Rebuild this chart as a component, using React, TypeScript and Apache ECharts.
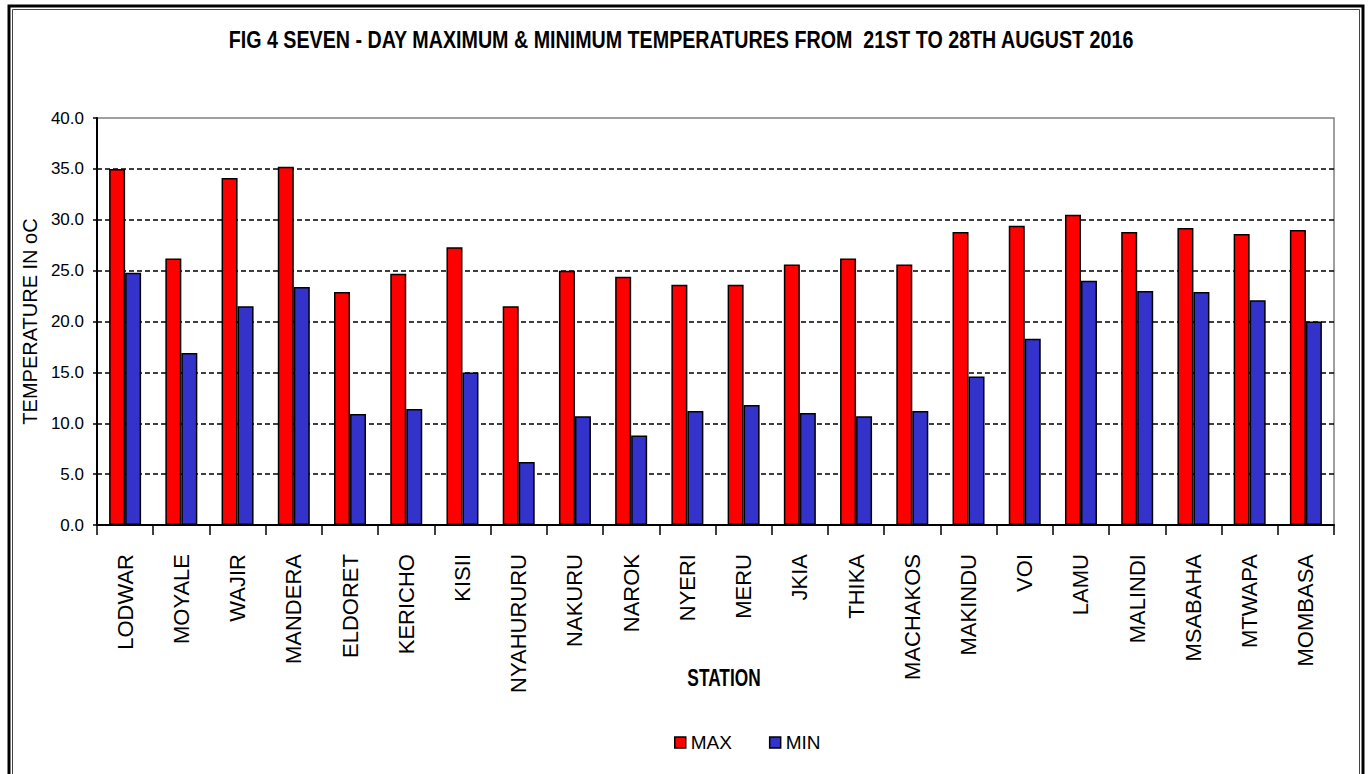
import React, { useEffect, useRef } from "react";
import * as echarts from "echarts";

const stations = ["LODWAR", "MOYALE", "WAJIR", "MANDERA", "ELDORET", "KERICHO", "KISII", "NYAHURURU", "NAKURU", "NAROK", "NYERI", "MERU", "JKIA", "THIKA", "MACHAKOS", "MAKINDU", "VOI", "LAMU", "MALINDI", "MSABAHA", "MTWAPA", "MOMBASA"];
const maxTemps = [35.0, 26.2, 34.1, 35.2, 22.9, 24.7, 27.3, 21.5, 25.0, 24.4, 23.6, 23.6, 25.6, 26.2, 25.6, 28.8, 29.4, 30.5, 28.8, 29.2, 28.6, 29.0];
const minTemps = [24.8, 16.9, 21.5, 23.4, 10.9, 11.4, 15.0, 6.2, 10.7, 8.8, 11.2, 11.8, 11.0, 10.7, 11.2, 14.6, 18.3, 24.0, 23.0, 22.9, 22.1, 20.0];
const seriesNames = ["MAX", "MIN"];
const titleText = "FIG 4 SEVEN - DAY MAXIMUM & MINIMUM TEMPERATURES FROM  21ST TO 28TH AUGUST 2016";
const xAxisTitle = "STATION";
const yAxisTitle = "TEMPERATURE IN oC";

const FONT = "'Liberation Sans', Arial, sans-serif";

export default function App() {
  const ref = useRef<HTMLDivElement>(null);
  useEffect(() => {
    const chart = echarts.init(ref.current!, undefined, { renderer: "svg" });
    chart.setOption({
      animation: false,
      backgroundColor: "#fff",
      legend: {
        data: seriesNames,
        left: 674,
        top: 733,
        padding: 0,
        icon: "rect",
        itemWidth: 11,
        itemHeight: 11,
        itemGap: 37,
        itemStyle: { borderColor: "#000", borderWidth: 1.5 },
        textStyle: { fontFamily: FONT, fontSize: 19, color: "#000" },
      },
      grid: { left: 97, top: 118, width: 1237, height: 407, show: true, borderColor: "#808080", borderWidth: 1.5 },
      xAxis: {
        type: "category",
        data: stations,
        axisLine: { lineStyle: { color: "#000", width: 2 } },
        axisTick: { show: true, length: 10, lineStyle: { color: "#000", width: 1.5 } },
        axisLabel: { rotate: 90, margin: 29, interval: 0, fontFamily: FONT, fontSize: 22, color: "#000" },
      },
      yAxis: {
        type: "value",
        min: 0,
        max: 40,
        interval: 5,
        name: yAxisTitle,
        nameLocation: "middle",
        nameRotate: 90,
        nameGap: 54,
        nameTextStyle: { fontFamily: FONT, fontSize: 20, color: "#000" },
        axisLine: { show: true, lineStyle: { color: "#000", width: 2 } },
        axisTick: { show: true, inside: false, length: 4, lineStyle: { color: "#000", width: 1.5 } },
        axisLabel: { margin: 13, fontFamily: FONT, fontSize: 17, color: "#000", formatter: (v: number) => v.toFixed(1) },
        splitLine: { show: true, showMaxLine: false, showMinLine: false, lineStyle: { color: "#000", width: 1.5, type: [5, 3] } },
      },
      graphic: [
        { type: "rect", shape: { x: 9, y: 6, width: 1354, height: 820 }, style: { fill: "none", stroke: "#000", lineWidth: 3 }, silent: true },
        { type: "rect", shape: { x: 12.5, y: 9.5, width: 1347, height: 820 }, style: { fill: "none", stroke: "#444", lineWidth: 1 }, silent: true },
        { type: "text", x: 681, y: 40, scaleX: 0.82, style: { text: titleText, fontFamily: FONT, fontWeight: "bold", fontSize: 24, fill: "#000", align: "center", verticalAlign: "middle" } },
        { type: "text", x: 724, y: 677, scaleX: 0.72, style: { text: xAxisTitle, fontFamily: FONT, fontWeight: "bold", fontSize: 24, fill: "#000", align: "center", verticalAlign: "middle" } },
      ],
      series: [
        {
          name: seriesNames[0],
          type: "bar",
          data: maxTemps,
          barWidth: 16,
          barGap: "0%",
          itemStyle: { color: "#FF0000", borderColor: "#000", borderWidth: 1.5 },
        },
        {
          name: seriesNames[1],
          type: "bar",
          data: minTemps,
          barWidth: 16,
          barGap: "0%",
          itemStyle: { color: "#3333CC", borderColor: "#000", borderWidth: 1.5 },
        },
      ],
    });
    return () => chart.dispose();
  }, []);
  return <div ref={ref} style={{ width: 1368, height: 774, position: "absolute", left: 0, top: 0 }} />;
}
